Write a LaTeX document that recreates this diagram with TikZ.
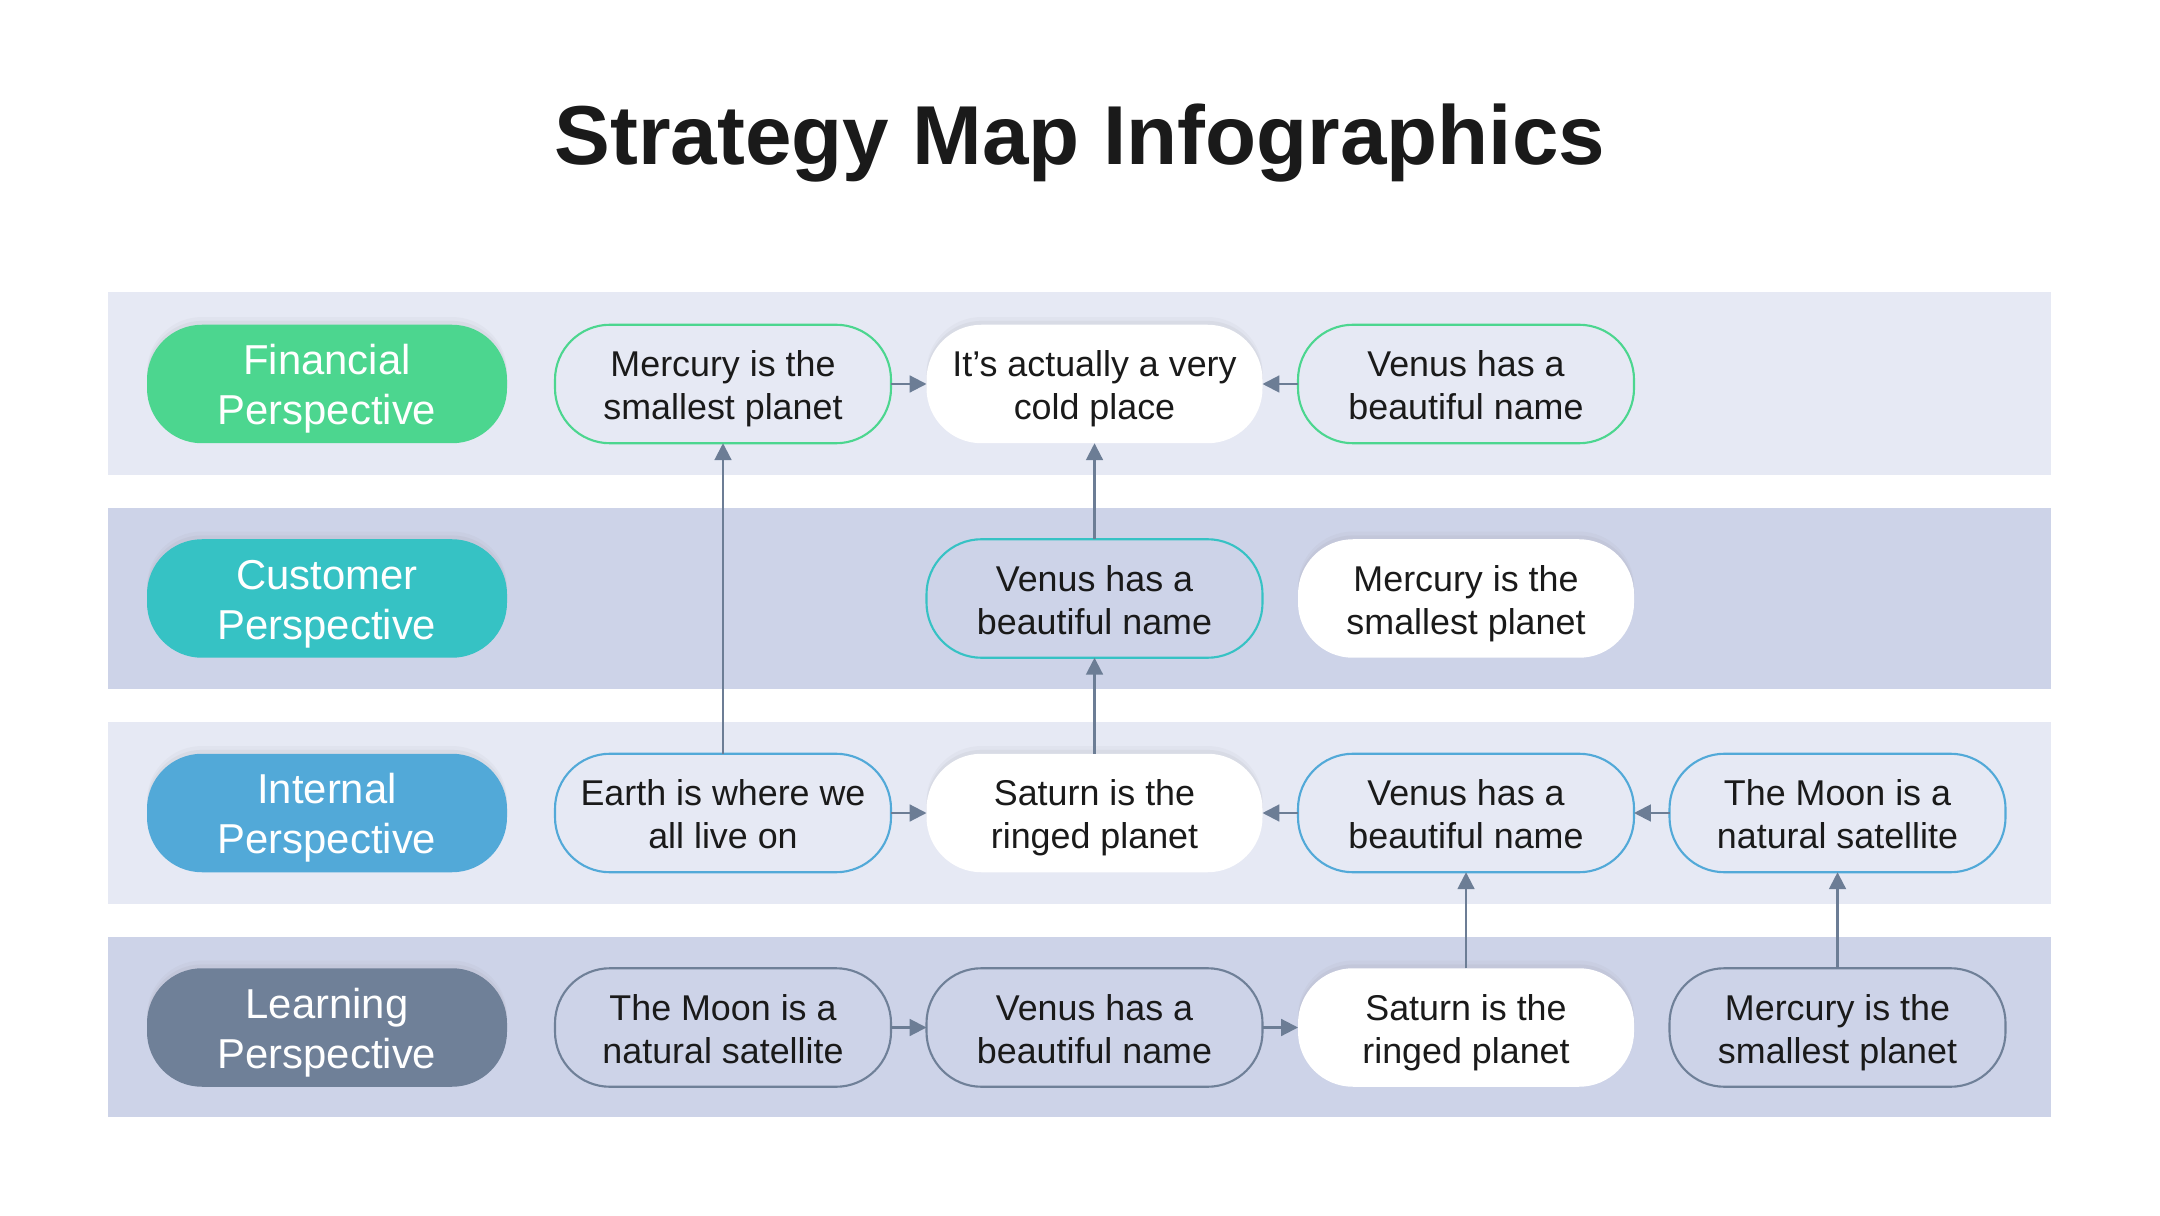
\documentclass[tikz,border=0pt]{standalone}
\usepackage{fontspec}
\setmainfont{Liberation Sans}
\usepackage{tikz}
\usetikzlibrary{arrows.meta, positioning, shadows}

\definecolor{bandlight}{HTML}{E6E9F4}
\definecolor{banddark}{HTML}{CDD3E8}
\definecolor{fincol}{HTML}{4CD68F}
\definecolor{cuscol}{HTML}{36C2C4}
\definecolor{intcol}{HTML}{52A9D8}
\definecolor{lrncol}{HTML}{6F8098}
\definecolor{linkcol}{HTML}{6C7D95}
\definecolor{inkcol}{HTML}{1A1A1A}

\tikzset{
    softshadow/.style={
        drop shadow={shadow xshift=0pt, shadow yshift=2.2pt, opacity=0.05},
        drop shadow={shadow xshift=0pt, shadow yshift=1.1pt, opacity=0.08}},
}

\begin{document}
\begin{tikzpicture}[
    node distance=0.96cm and 0.355cm,
    persp/.style={fill=#1, rectangle, rounded corners=0.55cm, minimum width=3.6cm, minimum height=1.185cm, inner xsep=0pt, inner ysep=0pt, outer sep=0pt, align=center, text=white, font=\fontsize{11.9}{14.2}\selectfont, softshadow,
        execute at begin node={\rule[-3.5pt]{0pt}{30.2pt}}},
    card/.style={rectangle, rounded corners=0.55cm, minimum width=3.36cm, minimum height=1.185cm, inner xsep=0pt, inner ysep=0pt, outer sep=0pt, align=center, text=inkcol, font=\fontsize{10.2}{12.2}\selectfont,
        execute at begin node={\rule[-3pt]{0pt}{26.3pt}}},
    item/.style={card, draw=#1, line width=0.6pt},
    hilite/.style={card, fill=white, softshadow},
    link/.style={->, draw=linkcol, line width=0.6pt},
    >={Triangle[length=4.8pt, width=4.8pt]},
]
    \useasboundingbox (0,0) rectangle (21.6,12.15);

    % bands
    \fill[bandlight] (1.075,7.40) rectangle (20.51,9.23);
    \fill[banddark]  (1.075,5.26) rectangle (20.51,7.07);
    \fill[bandlight] (1.075,3.11) rectangle (20.51,4.93);
    \fill[banddark]  (1.075,0.98) rectangle (20.51,2.78);

    \node[font=\bfseries\fontsize{23.8}{28}\selectfont, text=inkcol, anchor=base] (title) at (10.8,10.50) {Strategy Map Infographics};

    % perspectives
    \node[persp=fincol] (finP) at (3.27,8.31) {Financial\\Perspective};
    \node[persp=cuscol, below=of finP] (cusP) {Customer\\Perspective};
    \node[persp=intcol, below=of cusP] (intP) {Internal\\Perspective};
    \node[persp=lrncol, below=of intP] (lrnP) {Learning\\Perspective};

    % financial row
    \node[item=fincol, right=0.48cm of finP] (fin1) {Mercury is the\\smallest planet};
    \node[hilite, right=of fin1]             (fin2) {It’s actually a very\\cold place};
    \node[item=fincol, right=of fin2]        (fin3) {Venus has a\\beautiful name};

    % customer row
    \node[item=cuscol, below=of fin2] (cus2) {Venus has a\\beautiful name};
    \node[hilite, right=of cus2]      (cus3) {Mercury is the\\smallest planet};

    % internal row
    \node[item=intcol, right=0.48cm of intP] (int1) {Earth is where we\\all live on};
    \node[hilite, right=of int1]             (int2) {Saturn is the\\ringed planet};
    \node[item=intcol, right=of int2]        (int3) {Venus has a\\beautiful name};
    \node[item=intcol, right=of int3]        (int4) {The Moon is a\\natural satellite};

    % learning row
    \node[item=lrncol, right=0.48cm of lrnP] (lrn1) {The Moon is a\\natural satellite};
    \node[item=lrncol, right=of lrn1]        (lrn2) {Venus has a\\beautiful name};
    \node[hilite, right=of lrn2]             (lrn3) {Saturn is the\\ringed planet};
    \node[item=lrncol, right=of lrn3]        (lrn4) {Mercury is the\\smallest planet};

    \draw[link] (fin1) -- (fin2);
    \draw[link] (fin3) -- (fin2);
    \draw[link] (cus2) -- (fin2);
    \draw[link] (int1) -- (fin1);
    \draw[link] (int2) -- (cus2);
    \draw[link] (int1) -- (int2);
    \draw[link] (int3) -- (int2);
    \draw[link] (int4) -- (int3);
    \draw[link] (lrn1) -- (lrn2);
    \draw[link] (lrn2) -- (lrn3);
    \draw[link] (lrn3) -- (int3);
    \draw[link] (lrn4) -- (int4);
\end{tikzpicture}
\end{document}
